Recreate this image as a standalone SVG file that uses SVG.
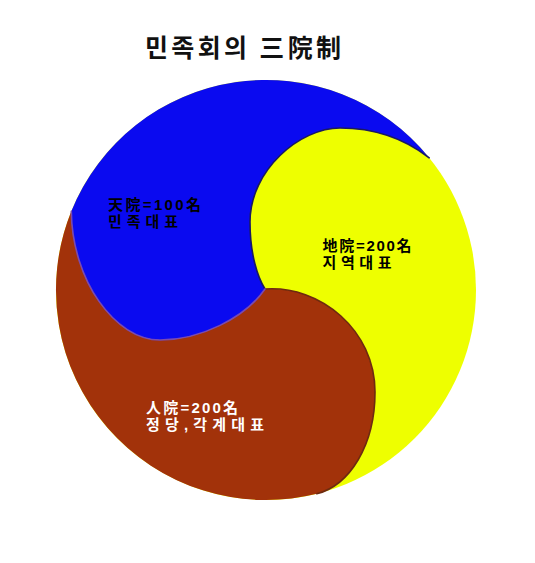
<svg xmlns="http://www.w3.org/2000/svg" width="535" height="563" viewBox="0 0 535 563">
  <style>
    .title { font-family: "Noto Sans CJK KR", "Noto Sans", sans-serif; font-size: 25px; font-weight: 700; fill: #111; }
    .lbl { font-family: "Liberation Sans", "Noto Sans CJK KR", sans-serif; font-size: 15px; font-weight: 700; }
    .dark { fill: #000; }
    .light { fill: #fff; }
    .edge { fill: none; stroke-width: 1.6; stroke-linecap: round; }
  </style>
  <rect width="535" height="563" fill="#ffffff"/>
  <text class="title" x="145" y="57" textLength="196" lengthAdjust="spacing">민족회의 三院制</text>

  <g id="earth-yellow">
    <circle cx="266" cy="290" r="210" fill="#eeff00"/>
  </g>
  <g id="heaven-blue">
    <path d="M71.3,211.3 A210,210 0 0 1 429.2,157.8 C410,143 380,128 340,128 C300,128 250,170 250,222 C250,255 258,278 265,289 C245,318 200,340 160,340 C115,340 72,280 71.3,211.3 Z" fill="#0a0af0"/>
  </g>
  <g id="human-brown">
    <path d="M316.8,493.8 A210,210 0 0 1 71.3,211.3 C72,280 115,340 160,340 C200,340 245,318 265,289 C320,285 375,330 375,392 C375,445 350,485 316.8,493.8 Z" fill="#a2320a"/>
  </g>
  <g id="edges">
    <path class="edge" stroke="#1a1a60" d="M429.2,157.8 C410,143 380,128 340,128 C300,128 250,170 250,222 C250,255 258,278 265,289"/>
    <path class="edge" stroke="#6e2a10" d="M265,289 C320,285 375,330 375,392 C375,445 350,485 316.8,493.8"/>
    <path class="edge" stroke="#7a4ab0" stroke-width="0.8" d="M265,289 C245,318 200,340 160,340 C115,340 72,280 71.3,211.3"/>
  </g>

  <g id="label-heaven">
    <text class="lbl dark" x="108" y="210" textLength="93" lengthAdjust="spacing">天院=100名</text>
    <text class="lbl dark" x="108" y="227" textLength="70" lengthAdjust="spacing">민족대표</text>
  </g>
  <g id="label-earth">
    <text class="lbl dark" x="322.5" y="251" textLength="89" lengthAdjust="spacing">地院=200名</text>
    <text class="lbl dark" x="322.5" y="268" textLength="69" lengthAdjust="spacing">지역대표</text>
  </g>
  <g id="label-human">
    <text class="lbl light" x="146" y="413" textLength="92" lengthAdjust="spacing">人院=200名</text>
    <text class="lbl light" x="146" y="430" textLength="118" lengthAdjust="spacing">정당,각계대표</text>
  </g>
</svg>
